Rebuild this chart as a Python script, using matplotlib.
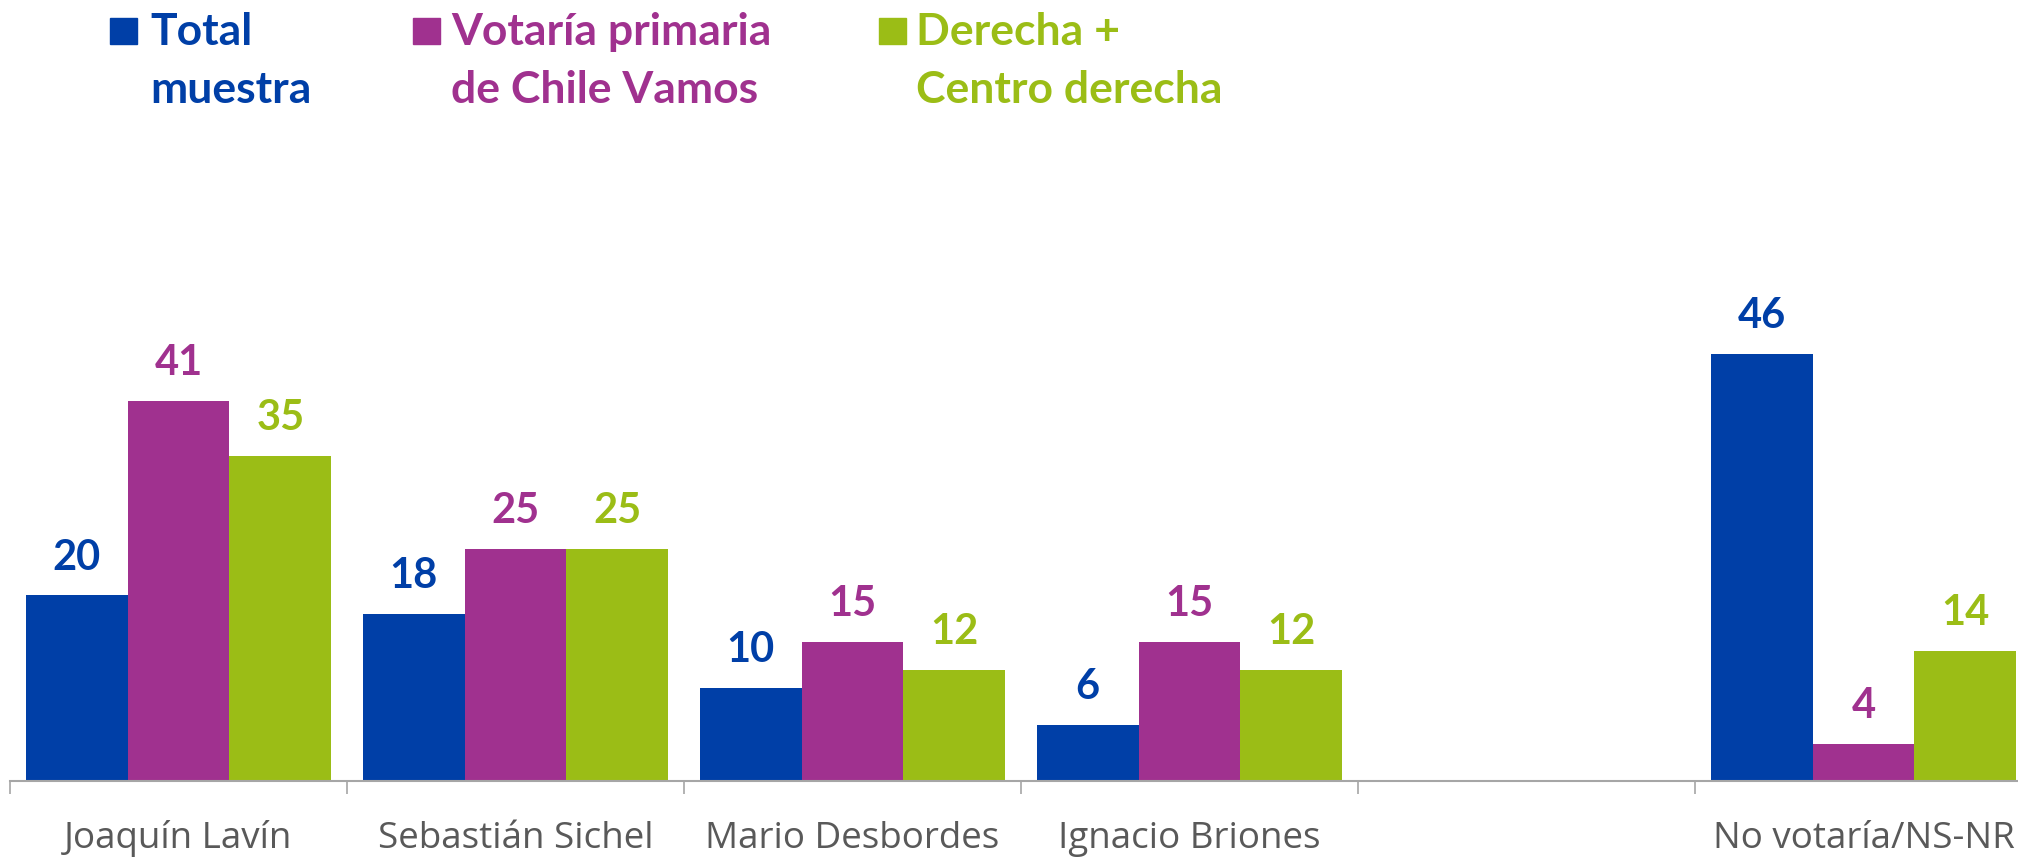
import matplotlib
matplotlib.use("Agg")
import matplotlib.pyplot as plt
import numpy as np
from matplotlib.patches import Rectangle

# ---- data ----
categories = ["Joaquín Lavín", "Sebastián Sichel", "Mario Desbordes",
              "Ignacio Briones", "", "No votaría/NS-NR"]
series_names = ["Total muestra", "Votaría primaria de Chile Vamos", "Derecha + Centro derecha"]
legend_lines = [["Total", "muestra"], ["Votaría primaria", "de Chile Vamos"], ["Derecha +", "Centro derecha"]]
total = [20, 18, 10, 6, np.nan, 46]
votaria = [41, 25, 15, 15, np.nan, 4]
derecha = [35, 25, 12, 12, np.nan, 14]
colors = ["#003FA7", "#A0318F", "#9BBD16"]

FONT = "Lato"
W, H = 2018, 857
fig = plt.figure(figsize=(W / 100, H / 100), dpi=100)

ax_left, ax_right = 10, 2032
ax_bottom_px = 781
ax = fig.add_axes([ax_left / W, (H - ax_bottom_px) / H, (ax_right - ax_left) / W, ax_bottom_px / H])

x = np.arange(len(categories))
bw = 0.302
allvals = [total, votaria, derecha]
for i, (vals, col) in enumerate(zip(allvals, colors)):
    xs = x + (i - 1) * bw
    ax.bar(xs, vals, width=bw, color=col, edgecolor="none", zorder=2)
    for xi, v in zip(xs, vals):
        if np.isnan(v):
            continue
        ax.annotate(f"{v:.0f}", (xi, v), xytext=(0, 18.7), textcoords="offset points",
                    ha="center", va="baseline", fontsize=30, fontweight="bold",
                    color=col, family=FONT)

ax.set_xlim(-0.5, len(categories) - 0.5)
ax.set_ylim(0, 84.2)
ax.set_yticks([])
for s in ["top", "right", "left"]:
    ax.spines[s].set_visible(False)
ax.spines["bottom"].set_color("#A6A6A6")
ax.spines["bottom"].set_linewidth(1.5)

ax.set_xticks(x)
ax.set_xticklabels(categories, fontsize=26.5, color="#595959", family="Open Sans")
ax.tick_params(axis="x", which="major", length=0, pad=48.5)
for lbl in ax.get_xticklabels():
    lbl.set_verticalalignment("baseline")
ax.set_xticks(np.arange(len(categories) + 1) - 0.5, minor=True)
ax.tick_params(axis="x", which="minor", length=9.5, width=1.2, color="#A6A6A6", direction="out")

# ---- legend ----
sq_x = [110, 413, 879]
txt_x = [150, 451, 916]
for sx, tx, lines, col in zip(sq_x, txt_x, legend_lines, colors):
    fig.patches.append(Rectangle((sx / W, 1 - 44 / H), 27 / W, 26 / H,
                                 transform=fig.transFigure, color=col, figure=fig))
    fig.text(tx / W, 1 - 45 / H, lines[0], fontsize=32, fontweight="bold", color=col,
             family=FONT, va="baseline", ha="left")
    fig.text(tx / W, 1 - 103 / H, lines[1], fontsize=32, fontweight="bold", color=col,
             family=FONT, va="baseline", ha="left")

fig.savefig("out.png", dpi=100)
